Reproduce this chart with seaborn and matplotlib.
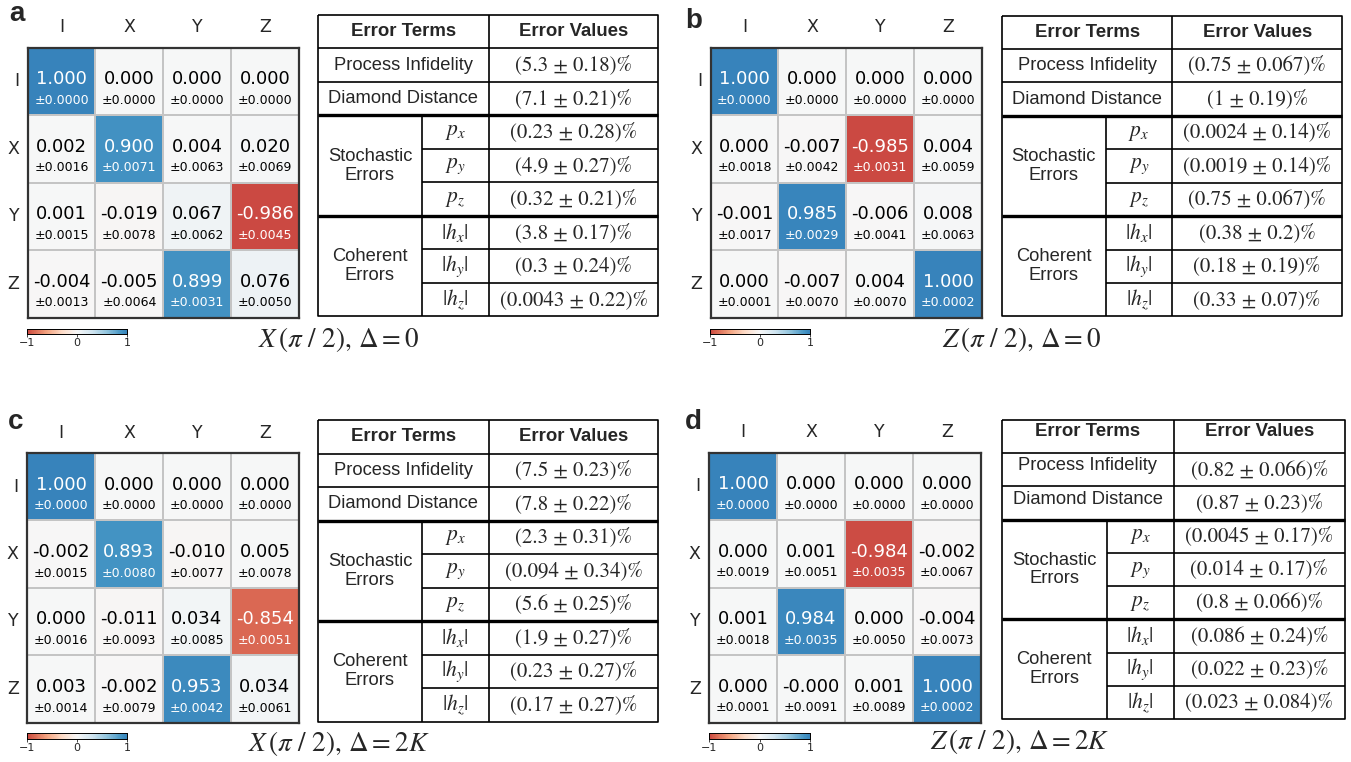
import numpy as np
import pandas as pd
import matplotlib
matplotlib.use("Agg")
import matplotlib.pyplot as plt
import seaborn as sns
from matplotlib.colors import ListedColormap

W, H = 1351, 762

# ---------------- data ----------------
paulis = ["I", "X", "Y", "Z"]

ptm_a = [[1.000, 0.000, 0.000, 0.000],
         [0.002, 0.900, 0.004, 0.020],
         [0.001, -0.019, 0.067, -0.986],
         [-0.004, -0.005, 0.899, 0.076]]
err_a = [[0.0, 0.0, 0.0, 0.0],
         [0.0016, 0.0071, 0.0063, 0.0069],
         [0.0015, 0.0078, 0.0062, 0.0045],
         [0.0013, 0.0064, 0.0031, 0.0050]]

ptm_b = [[1.000, 0.000, 0.000, 0.000],
         [0.000, -0.007, -0.985, 0.004],
         [-0.001, 0.985, -0.006, 0.008],
         [0.000, -0.007, 0.004, 1.000]]
err_b = [[0.0, 0.0, 0.0, 0.0],
         [0.0018, 0.0042, 0.0031, 0.0059],
         [0.0017, 0.0029, 0.0041, 0.0063],
         [0.0001, 0.0070, 0.0070, 0.0002]]

ptm_c = [[1.000, 0.000, 0.000, 0.000],
         [-0.002, 0.893, -0.010, 0.005],
         [0.000, -0.011, 0.034, -0.854],
         [0.003, -0.002, 0.953, 0.034]]
err_c = [[0.0, 0.0, 0.0, 0.0],
         [0.0015, 0.0080, 0.0077, 0.0078],
         [0.0016, 0.0093, 0.0085, 0.0051],
         [0.0014, 0.0079, 0.0042, 0.0061]]

ptm_d = [[1.000, 0.000, 0.000, 0.000],
         [0.000, 0.001, -0.984, -0.002],
         [0.001, 0.984, 0.000, -0.004],
         [0.000, -0.0, 0.001, 1.000]]
err_d = [[0.0, 0.0, 0.0, 0.0],
         [0.0019, 0.0051, 0.0035, 0.0067],
         [0.0018, 0.0035, 0.0050, 0.0073],
         [0.0001, 0.0091, 0.0089, 0.0002]]

# table: process infidelity, diamond distance, px, py, pz, |hx|, |hy|, |hz|  (in %)
tab_a_val = [5.3, 7.1, 0.23, 4.9, 0.32, 3.8, 0.3, 0.0043]
tab_a_err = [0.18, 0.21, 0.28, 0.27, 0.21, 0.17, 0.24, 0.22]
tab_b_val = [0.75, 1, 0.0024, 0.0019, 0.75, 0.38, 0.18, 0.33]
tab_b_err = [0.067, 0.19, 0.14, 0.14, 0.067, 0.2, 0.19, 0.07]
tab_c_val = [7.5, 7.8, 2.3, 0.094, 5.6, 1.9, 0.23, 0.17]
tab_c_err = [0.23, 0.22, 0.31, 0.34, 0.25, 0.27, 0.27, 0.27]
tab_d_val = [0.82, 0.87, 0.0045, 0.014, 0.8, 0.086, 0.022, 0.023]
tab_d_err = [0.066, 0.23, 0.17, 0.17, 0.066, 0.24, 0.23, 0.084]

sub_labels = [r"$p_x$", r"$p_y$", r"$p_z$", r"$|h_x|$", r"$|h_y|$", r"$|h_z|$"]

captions = [r"$X\,(\pi\ /\ 2),\,\Delta = 0$",
            r"$Z\,(\pi\ /\ 2),\,\Delta = 0$",
            r"$X\,(\pi\ /\ 2),\,\Delta = 2K$",
            r"$Z\,(\pi\ /\ 2),\,\Delta = 2K$"]

# ---------------- style ----------------
sns.set_theme(style="white")
plt.rcParams["font.family"] = ["DejaVu Sans"]
plt.rcParams["mathtext.fontset"] = "stix"

base = matplotlib.colormaps["RdBu"]
cmap = ListedColormap(base(np.linspace(1 / 6, 5 / 6, 256)))

fig = plt.figure(figsize=(W / 100, H / 100), dpi=100)


def rect(x0, y0, x1, y1):
    return [x0 / W, 1 - y1 / H, (x1 - x0) / W, (y1 - y0) / H]


panels = [
    dict(letter="a", ptm=ptm_a, err=err_a, tv=tab_a_val, te=tab_a_err,
         heat=(27.5, 47.5, 299, 317.5), cbar=(27, 328.5, 127, 334),
         table=(318, 15, 658.5, 316.5), cap=(339, 339), lab=(9, 21), d=False),
    dict(letter="b", ptm=ptm_b, err=err_b, tv=tab_b_val, te=tab_b_err,
         heat=(710.5, 47.5, 982, 317.5), cbar=(710, 328.5, 810, 334),
         table=(1002, 15.5, 1342, 316.5), cap=(1022, 339), lab=(685, 28), d=False),
    dict(letter="c", ptm=ptm_c, err=err_c, tv=tab_c_val, te=tab_c_err,
         heat=(27, 453, 299, 722.5), cbar=(27, 733, 127, 738.5),
         table=(318, 420, 658.5, 721.5), cap=(339, 744), lab=(8, 429), d=False),
    dict(letter="d", ptm=ptm_d, err=err_d, tv=tab_d_val, te=tab_d_err,
         heat=(709, 452.5, 981, 722.5), cbar=(709, 733, 810, 738.5),
         table=(1002, 420, 1345, 719), cap=(1020, 741), lab=(685, 429), d=True),
]

for i, p in enumerate(panels):
    ax = fig.add_axes(rect(*p["heat"]))
    cax = fig.add_axes(rect(*p["cbar"]))
    df = pd.DataFrame(p["ptm"], index=paulis, columns=paulis)
    sns.heatmap(df, ax=ax, cmap=cmap, vmin=-1, vmax=1, cbar=True, cbar_ax=cax,
                cbar_kws={"orientation": "horizontal", "ticks": [-1, 0, 1]},
                linewidths=1.3, linecolor="#c4c4c4", square=False)
    ax.xaxis.tick_top()
    ax.tick_params(axis="both", length=0, labelsize=12.5)
    ax.tick_params(axis="x", pad=8)
    ax.tick_params(axis="y", pad=6, labelrotation=0)
    ax.set_xlabel("")
    ax.set_ylabel("")
    for s in ax.spines.values():
        s.set_visible(True)
        s.set_color("#333333")
        s.set_linewidth(1.6)
    vals = np.array(p["ptm"])
    errs = np.array(p["err"])
    for r in range(4):
        for c in range(4):
            v = vals[r, c]
            col = "white" if abs(v) > 0.5 else "black"
            ax.text(c + 0.5, r + 0.47, f"{v:.3f}", ha="center", va="center",
                    fontsize=13, color=col)
            ax.text(c + 0.5, r + 0.785, f"\u00b1{errs[r, c]:.4f}", ha="center",
                    va="center", fontsize=9, color=col)
    cax.tick_params(length=2, width=0.6, labelsize=8, pad=1)
    cax.xaxis.set_ticks_position("bottom")
    for s in cax.spines.values():
        s.set_visible(True)
        s.set_linewidth(0.6)
        s.set_color("black")

    # caption
    fig.text(p["cap"][0] / W, 1 - p["cap"][1] / H, captions[i], ha="center",
             va="center", fontsize=19.5)
    # panel letter
    fig.text(p["lab"][0] / W, 1 - p["lab"][1] / H, p["letter"], ha="left",
             va="baseline", fontsize=20, fontweight="bold",
             family=["Liberation Sans"])

    # ---------- table ----------
    tx = fig.add_axes(rect(*p["table"]))
    tx.set_xlim(0, 1)
    tx.set_ylim(9, 0)
    tx.axis("off")
    c1, c2 = 0.305, 0.501
    lw, lwt = 1.2, 2.4
    kw = dict(color="black", clip_on=False, solid_capstyle="butt")
    tx.plot([0, 1, 1, 0, 0], [0, 0, 9, 9, 0], lw=lw, **kw)
    for yy in [1, 2, 4, 5, 7, 8]:
        x_start = 0 if yy in (1, 2) else c1
        tx.plot([x_start, 1], [yy, yy], lw=lw, **kw)
    for yy in [3, 6]:
        tx.plot([0, 1], [yy, yy], lw=lwt, **kw)
    tx.plot([c2, c2], [0, 9], lw=lw, **kw)
    tx.plot([c1, c1], [3, 9], lw=lw, **kw)

    dy_lab = -0.12 if p["d"] else 0.0
    dy_head = -0.15 if p["d"] else 0.0
    fam = ["Liberation Sans"]
    tx.text(c2 / 2, 0.5 + dy_head, "Error Terms", ha="center", va="center",
            fontsize=13.4, fontweight="bold", family=fam)
    tx.text((c2 + 1) / 2, 0.5 + dy_head, "Error Values", ha="center", va="center",
            fontsize=13.4, fontweight="bold", family=fam)
    tx.text(c2 / 2, 1.5 + dy_lab, "Process Infidelity", ha="center", va="center",
            fontsize=13.2, family=fam)
    tx.text(c2 / 2, 2.5 + dy_lab, "Diamond Distance", ha="center", va="center",
            fontsize=13.2, family=fam)
    tx.text(c1 / 2, 4.5, "Stochastic\nErrors", ha="center", va="center",
            fontsize=13.2, family=fam, linespacing=1.15)
    tx.text(c1 / 2, 7.5, "Coherent\nErrors", ha="center", va="center",
            fontsize=13.2, family=fam, linespacing=1.15)
    for k, lab in enumerate(sub_labels):
        tx.text((c1 + c2) / 2, 3.5 + k, lab, ha="center", va="center", fontsize=15.5)
    for k in range(8):
        s = f"({p['tv'][k]:g} \u00b1 {p['te'][k]:g})%"
        tx.text((c2 + 1) / 2, 1.5 + k, s, ha="center", va="center", fontsize=15,
                family=["STIXGeneral"])

fig.savefig("out.png", dpi=100)
